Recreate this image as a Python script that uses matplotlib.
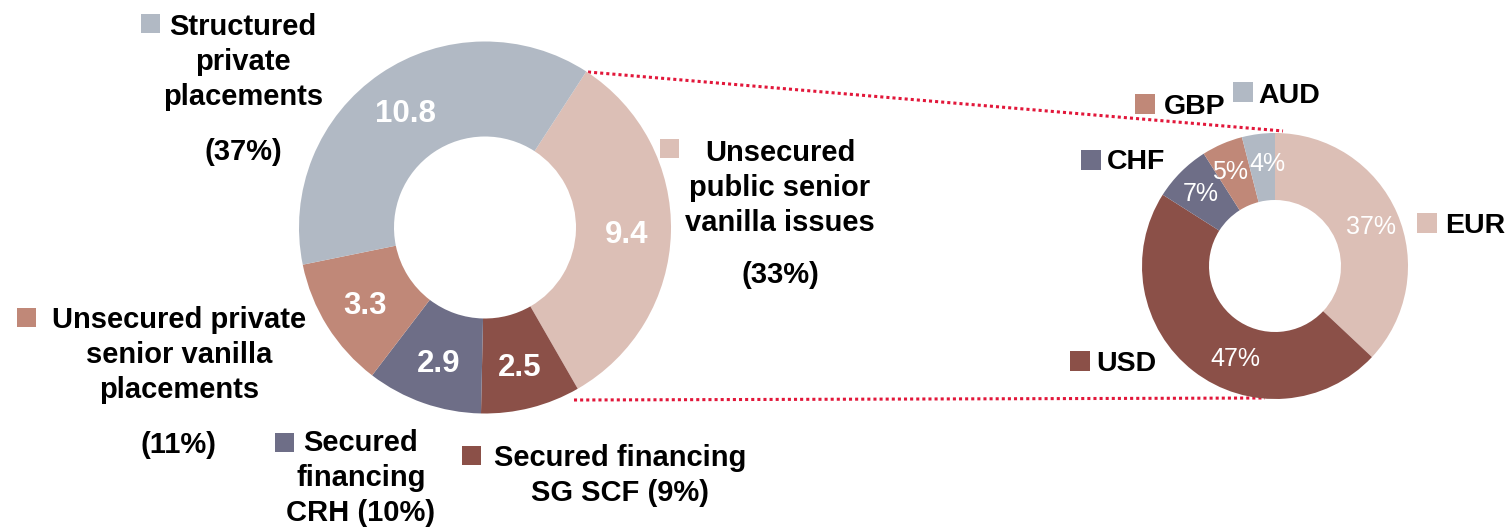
import matplotlib.pyplot as plt
from matplotlib.patches import Rectangle

plt.rcParams['font.family'] = ['Liberation Sans', 'DejaVu Sans']

W, H = 1508, 528

# left donut: funding programme by segment (EUR bn)
seg_values = [9.4, 2.5, 2.9, 3.3, 10.8]
seg_colors = ['#DCBFB6', '#8B5048', '#6E6E87', '#C08878', '#B1B9C4']
seg_labels = ['Unsecured\npublic senior\nvanilla issues',
              'Secured financing\nSG SCF (9%)',
              'Secured\nfinancing\nCRH (10%)',
              'Unsecured private\nsenior vanilla\nplacements',
              'Structured\nprivate\nplacements']
seg_shares = ['(33%)', None, None, '(11%)', '(37%)']

# right donut: split by currency (%)
cur_names = ['EUR', 'USD', 'CHF', 'GBP', 'AUD']
cur_shares = [37, 47, 7, 5, 4]
cur_colors = ['#DCBFB6', '#8B5048', '#6E6E87', '#C08878', '#B1B9C4']

# layout in pixels (top-left origin)
seg_square = [(660, 139), (462, 446), (275, 433), (17, 308), (141, 14)]
seg_text = [(780, 153), (620, 458), (361, 443), (179, 320), (243, 27)]
seg_share_pos = [(780, 275), None, None, (179, 445), (243, 152)]
cur_square = [(1417, 214), (1070, 352), (1081, 151), (1135, 95), (1233, 83)]
cur_text = [(1445, 226), (1096, 364), (1107, 162), (1164, 107), (1258, 96)]
# small nudges of the in-ring percentages (px, y downwards)
cur_pct_shift = [(0, 0), (25, 7), (0, 0), (-3, 0), (6, 0)]


def Y(y):
    return H - y


fig = plt.figure(figsize=(W / 100, H / 100), dpi=100)
ax = fig.add_axes([0, 0, 1, 1])

total = sum(seg_values)
wedges, _, autotexts = ax.pie(
    seg_values, colors=seg_colors, startangle=57, counterclock=False,
    center=(485, Y(227.5)), radius=186, frame=True,
    wedgeprops=dict(width=95, linewidth=0),
    autopct=lambda p: f'{p * total / 100:.1f}', pctdistance=0.76,
    textprops=dict(color='white', fontsize=22.5, fontweight='bold'))
for t in autotexts:
    t.set_va('center_baseline')

wedges2, _, autotexts2 = ax.pie(
    cur_shares, colors=cur_colors, startangle=90, counterclock=False,
    center=(1275, Y(266)), radius=133, frame=True,
    wedgeprops=dict(width=67, linewidth=0),
    autopct=lambda p: f'{p:.0f}%', pctdistance=0.79,
    textprops=dict(color='white', fontsize=18))
for t, (dx, dy) in zip(autotexts2, cur_pct_shift):
    x, y = t.get_position()
    t.set_position((x + dx, y - dy))
    t.set_va('center_baseline')

# zoom connector lines
ax.plot([588, 1283], [Y(72), Y(131)], color='#E2173A', lw=2.2,
        linestyle=(0, (1, 1)), zorder=0)
ax.plot([574, 1265], [Y(400), Y(398)], color='#E2173A', lw=2.2,
        linestyle=(0, (1, 1)), zorder=0)

sq = 19
for (sx, sy), (tx, ty), label, share, share_pos, c in zip(
        seg_square, seg_text, seg_labels, seg_shares, seg_share_pos, seg_colors):
    ax.add_patch(Rectangle((sx, Y(sy + sq)), sq, sq, color=c, lw=0))
    for i, line in enumerate(label.split('\n')):
        ax.text(tx, Y(ty + i * 35), line, ha='center', va='center',
                fontsize=21, fontweight='bold')
    if share:
        ax.text(share_pos[0], Y(share_pos[1]), share, ha='center', va='center',
                fontsize=21, fontweight='bold')

for (sx, sy), (tx, ty), name, c in zip(cur_square, cur_text, cur_names, cur_colors):
    ax.add_patch(Rectangle((sx, Y(sy + sq)), sq + 1, sq + 1, color=c, lw=0))
    ax.text(tx, Y(ty), name, ha='left', va='center', fontsize=20.5,
            fontweight='bold')

ax.set_xlim(0, W)
ax.set_ylim(0, H)
ax.set_aspect('equal')
ax.axis('off')

fig.savefig('out.png', dpi=100)
